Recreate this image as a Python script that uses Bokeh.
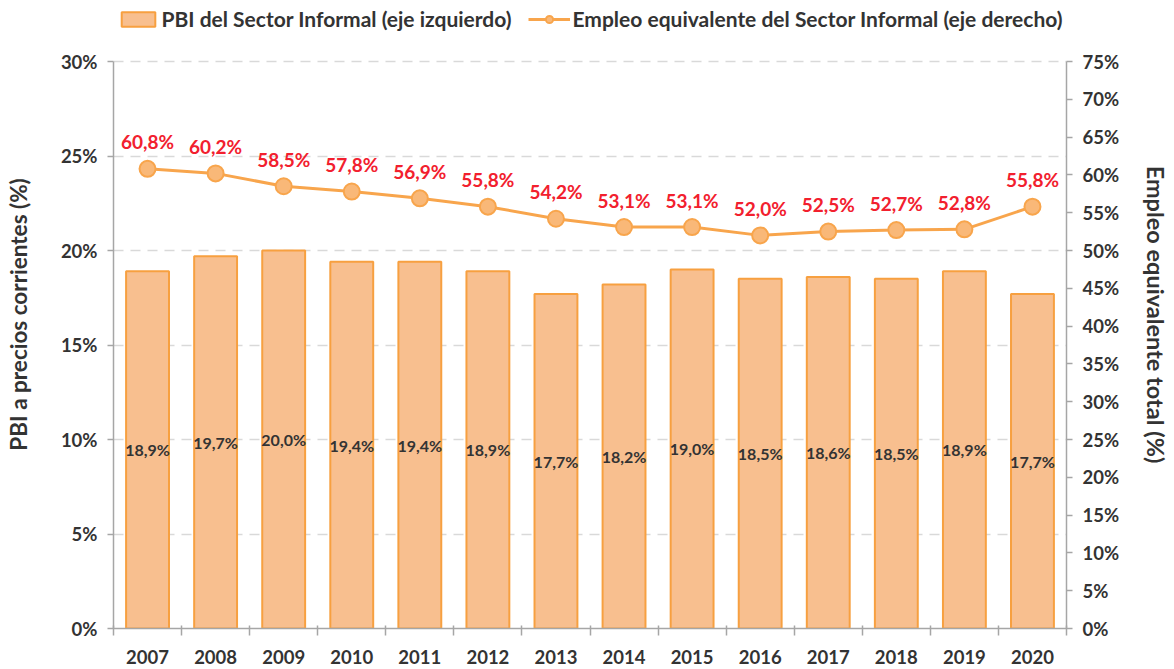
from bokeh.plotting import figure
from bokeh.models import (Range1d, LinearAxis, FixedTicker, ColumnDataSource, Legend, LegendItem)
from bokeh.embed import file_html
from bokeh.resources import INLINE
from bokeh.core.properties import value

years = ["2007", "2008", "2009", "2010", "2011", "2012", "2013", "2014", "2015", "2016", "2017", "2018", "2019", "2020"]
pbi = [18.9, 19.7, 20.0, 19.4, 19.4, 18.9, 17.7, 18.2, 19.0, 18.5, 18.6, 18.5, 18.9, 17.7]
empleo = [60.8, 60.2, 58.5, 57.8, 56.9, 55.8, 54.2, 53.1, 53.1, 52.0, 52.5, 52.7, 52.8, 55.8]
left_ticks = [0, 5, 10, 15, 20, 25, 30]
right_ticks = list(range(0, 80, 5))
LEFT_MAX, RIGHT_MAX = 30, 75

FONT = "Lato"
TXT = "#333333"
AX = "#A6A6A6"
BAR_FILL = "#F8BF8F"
BAR_LINE = "#F7A040"
LINE_C = "#F8A54C"
RED = "#F2202E"

# plot area: 567 px for the axes' span, plus 61 px of headroom for the legend
AXIS_PX, TOP_PX = 567, 61
head = (AXIS_PX + TOP_PX) / AXIS_PX

x = list(range(len(years)))
fmt = lambda v: f"{v:.1f}%".replace(".", ",")
src = ColumnDataSource(dict(
    x=x, pbi=pbi, pbi_mid=[v / 2 for v in pbi], empleo=empleo,
    pbi_lab=[fmt(v) for v in pbi], emp_lab=[fmt(v) for v in empleo],
))

p = figure(frame_width=953, frame_height=AXIS_PX + TOP_PX, output_backend="svg", toolbar_location=None,
           x_range=Range1d(-0.5, len(years) - 0.5), y_range=Range1d(0, LEFT_MAX * head),
           min_border_left=113, min_border_right=100, min_border_top=0, min_border_bottom=41)
p.outline_line_color = None
p.background_fill_color = "white"
p.extra_y_ranges = {"right": Range1d(0, RIGHT_MAX * head)}

# axes
p.xaxis.ticker = FixedTicker(ticks=x, minor_ticks=[i - 0.5 for i in range(len(years) + 1)])
p.xaxis.major_label_overrides = {i: y for i, y in zip(x, years)}
p.xaxis.major_tick_line_color = None
p.xaxis.minor_tick_line_color = AX
p.xaxis.minor_tick_in = 3
p.xaxis.minor_tick_out = 7
p.xaxis.minor_tick_line_width = 1.5
p.xaxis.axis_line_color = AX
p.xaxis.axis_line_width = 1.5
p.xaxis.major_label_standoff = 14
p.xaxis.major_label_text_font = FONT
p.xaxis.major_label_text_font_style = "bold"
p.xaxis.major_label_text_font_size = "18.5px"
p.xaxis.major_label_text_color = TXT

p.yaxis.ticker = FixedTicker(ticks=left_ticks)
p.yaxis.bounds = (0, LEFT_MAX)
p.yaxis.major_label_overrides = {t: f"{t}%" for t in left_ticks}
p.yaxis.axis_label = "PBI a precios corrientes (%)"
right = LinearAxis(y_range_name="right", ticker=FixedTicker(ticks=right_ticks), bounds=(0, RIGHT_MAX),
                   axis_label="Empleo equivalente total (%)")
right.major_label_overrides = {t: f"{t}%" for t in right_ticks}
p.add_layout(right, "right")

for ax in [p.yaxis[0], right]:
    ax.minor_tick_line_color = None
    ax.major_tick_in = 0
    ax.major_tick_out = 6
    ax.major_tick_line_color = AX
    ax.major_tick_line_width = 1.5
    ax.axis_line_color = AX
    ax.axis_line_width = 1.5
    ax.major_label_text_font = FONT
    ax.major_label_text_font_style = "bold"
    ax.major_label_text_font_size = "18.5px"
    ax.major_label_text_color = TXT
    ax.major_label_standoff = 10
    ax.axis_label_text_font = FONT
    ax.axis_label_text_font_style = "bold"
    ax.axis_label_text_color = TXT
p.yaxis[0].axis_label_standoff = 26
p.yaxis[0].axis_label_text_font_size = "22.5px"
right.axis_label_standoff = 20
right.axis_label_text_font_size = "23.5px"

p.xgrid.grid_line_color = None
p.ygrid.grid_line_color = "#D9D9D9"
p.ygrid.grid_line_dash = "10 7"
p.ygrid.grid_line_width = 1.3

bars = p.vbar(x="x", top="pbi", width=0.63, source=src, fill_color=BAR_FILL,
              line_color=BAR_LINE, line_width=2)
ln = p.line(x="x", y="empleo", source=src, y_range_name="right", line_color=LINE_C, line_width=3)
mk = p.scatter(x="x", y="empleo", source=src, y_range_name="right", size=16,
               fill_color="#F9B878", line_color=LINE_C, line_width=2)

p.text(x="x", y="pbi_mid", text="pbi_lab", source=src, text_align="center", text_baseline="middle",
       text_font=value(FONT), text_font_style="bold", text_font_size="16px", text_color=TXT)
p.text(x="x", y="empleo", text="emp_lab", source=src, y_range_name="right", text_align="center",
       text_baseline="middle", y_offset=-27,
       text_font=value(FONT), text_font_style="bold", text_font_size="19px", text_color=RED)

legend = Legend(items=[LegendItem(label="PBI del Sector Informal (eje izquierdo)", renderers=[bars]),
                       LegendItem(label="Empleo equivalente del Sector Informal (eje derecho)", renderers=[ln, mk])],
                orientation="horizontal", location="top_center", border_line_color=None,
                background_fill_alpha=0, glyph_width=42, glyph_height=18, spacing=16,
                label_text_font=FONT, label_text_font_style="bold", label_text_font_size="21px",
                label_text_color=TXT, padding=0, margin=6, label_standoff=3)
p.add_layout(legend, "center")

open("out.html", "w").write(file_html(p, INLINE))
